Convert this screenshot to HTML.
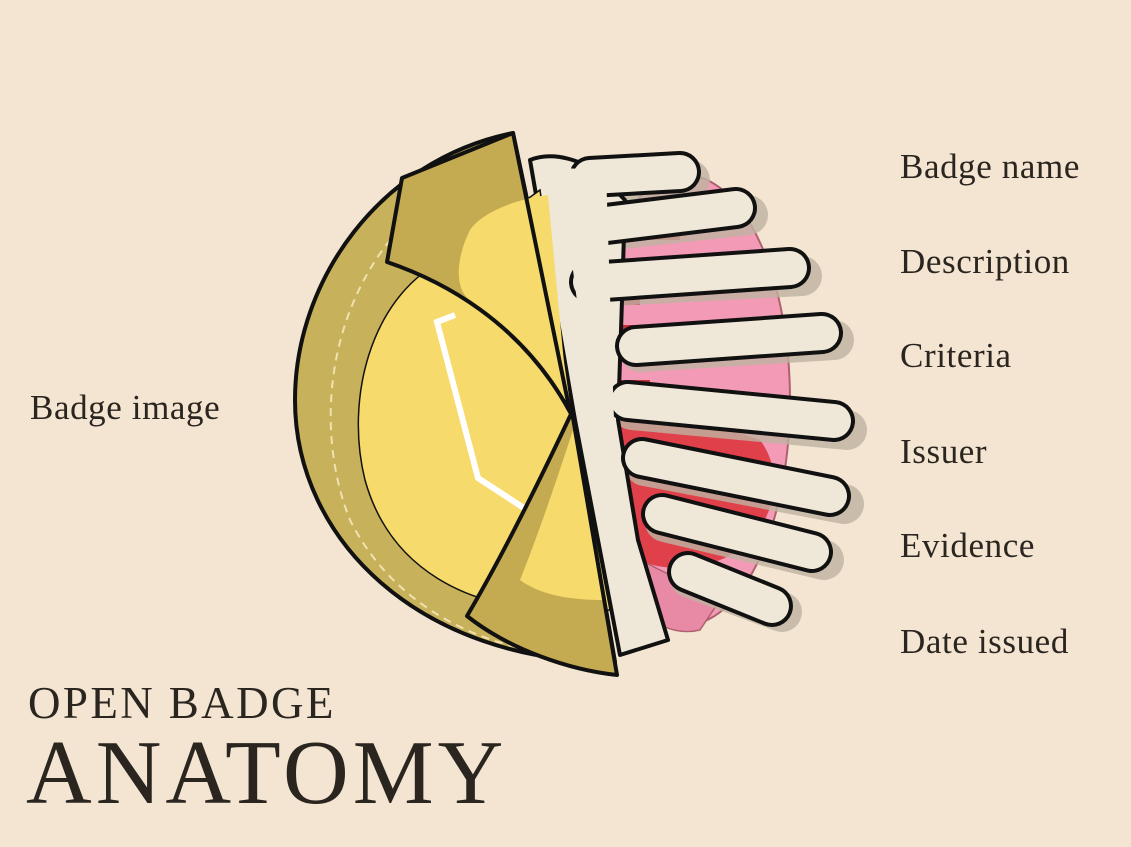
<!DOCTYPE html>
<html><head><meta charset="utf-8"><style>
html,body{margin:0;padding:0;background:#f3e5d1;}
body{width:1131px;height:847px;position:relative;overflow:hidden;font-family:"Liberation Serif",serif;color:#2b2520;}
.l{position:absolute;font-size:35px;white-space:nowrap;letter-spacing:0.6px;}
</style></head><body>
<svg width="1131" height="847" style="position:absolute;left:0;top:0">
<!-- lungs / organs behind ribs -->
<ellipse cx="685" cy="400" rx="105" ry="225" fill="#f29ab6" stroke="#b0606f" stroke-width="2"/>
<path d="M600,430 C640,400 700,420 760,440 C790,480 770,540 720,560 C660,580 620,560 600,520Z" fill="#e0404a"/>
<path d="M600,325 L660,325 L660,360 L600,360Z" fill="#c8303a"/>
<path d="M600,380 L650,380 L650,410 L600,410Z" fill="#c8303a"/>
<path d="M600,200 L680,200 L680,240 L600,240Z" fill="#c8303a"/>
<path d="M585,215 L655,215 L655,235 L585,235Z" fill="#2f5fc0"/>
<path d="M590,280 L640,280 L640,305 L590,305Z" fill="#c8303a"/>
<path d="M600,287 C610,277 630,282 630,297 L600,302Z" fill="#2f5fc0"/>
<path d="M600,560 C620,600 660,640 700,630 L720,600 L640,560Z" fill="#e88aa6" stroke="#b0606f" stroke-width="1.5"/>
<!-- rib shadows -->
<g stroke="#bfb3a2" stroke-width="40" stroke-linecap="round" fill="none" opacity="0.8">
<path d="M595,183 L690,180"/><path d="M595,232 L748,215"/><path d="M595,287 L802,276"/>
<path d="M640,352 L834,340"/><path d="M632,410 L847,430"/><path d="M645,466 L844,504"/>
<path d="M665,522 L824,560"/><path d="M690,578 L782,612"/>
</g>
<!-- spine/sternum -->
<path d="M530,160 C555,150 585,162 600,175 L625,200 L622,300 L618,420 L638,540 L668,640 L620,655 L575,420 Z" fill="#efe8d8" stroke="#111" stroke-width="4" stroke-linejoin="round"/>
<!-- ribs -->
<g stroke-linecap="round" fill="none">
<g stroke="#111" stroke-width="42">
<path d="M590,177 L680,172"/><path d="M590,226 L736,208"/><path d="M590,282 L790,268"/>
<path d="M636,346 L822,333"/><path d="M628,401 L834,421"/><path d="M642,458 L830,496"/>
<path d="M662,514 L812,552"/><path d="M688,572 L772,606"/>
</g>
<g stroke="#efe8d8" stroke-width="34">
<path d="M590,177 L680,172"/><path d="M590,226 L736,208"/><path d="M590,282 L790,268"/>
<path d="M636,346 L822,333"/><path d="M628,401 L834,421"/><path d="M642,458 L830,496"/>
<path d="M662,514 L812,552"/><path d="M688,572 L772,606"/>
</g>
</g>
<path d="M560,168 L606,170 L614,420 L630,560 L610,560 Z" fill="#efe8d8"/>
<!-- badge outer -->
<path d="M513,133 C380,160 295,280 295,400 C295,540 420,662 615,662 L572,412 Z" fill="#c8b15b" stroke="#111" stroke-width="4" stroke-linejoin="round"/>
<path d="M430,200 C330,280 310,420 350,520 C390,600 470,645 560,655" fill="none" stroke="#efe2b0" stroke-width="2" stroke-dasharray="8 6"/>
<!-- inner yellow -->
<path d="M440,262 C370,300 345,400 365,480 C390,570 470,610 560,610 L610,610 L572,412 L540,190 Z" fill="#f7da6c" stroke="#111" stroke-width="1.5"/>
<path d="M455,315 L437,322 L478,478 L530,512" fill="none" stroke="#fff" stroke-width="6"/>
<!-- top flap -->
<path d="M513,133 L402,178 L387,262 C440,280 520,320 570,412 Z" fill="#c4aa50"/>
<path d="M470,230 C455,260 455,290 470,300 C515,330 550,370 568,405 L548,195 C510,200 480,215 470,230Z" fill="#f7da6c"/>
<path d="M513,133 L402,178 L387,262 C440,280 520,320 570,412 Z" fill="none" stroke="#111" stroke-width="4" stroke-linejoin="round"/>
<!-- bottom flap -->
<path d="M467,616 C500,560 540,480 572,412 L617,675 C570,670 510,650 467,616 Z" fill="#c4aa50"/>
<path d="M520,580 C540,530 560,470 573,430 L604,600 C570,600 540,595 520,580Z" fill="#f7da6c"/>
<path d="M467,616 C500,560 540,480 572,412 L617,675 C570,670 510,650 467,616 Z" fill="none" stroke="#111" stroke-width="4" stroke-linejoin="round"/>
</svg>
<div class="l" style="left:900px;top:147px">Badge name</div>
<div class="l" style="left:900px;top:242px">Description</div>
<div class="l" style="left:900px;top:336px">Criteria</div>
<div class="l" style="left:900px;top:432px">Issuer</div>
<div class="l" style="left:900px;top:526px">Evidence</div>
<div class="l" style="left:900px;top:622px">Date issued</div>
<div class="l" style="left:30px;top:388px">Badge image</div>
<div class="l" style="left:28px;top:677px;font-size:45px;letter-spacing:2.4px;">OPEN BADGE</div>
<div class="l" style="left:26px;top:720px;font-size:91px;letter-spacing:4px;">ANATOMY</div>
</body></html>
